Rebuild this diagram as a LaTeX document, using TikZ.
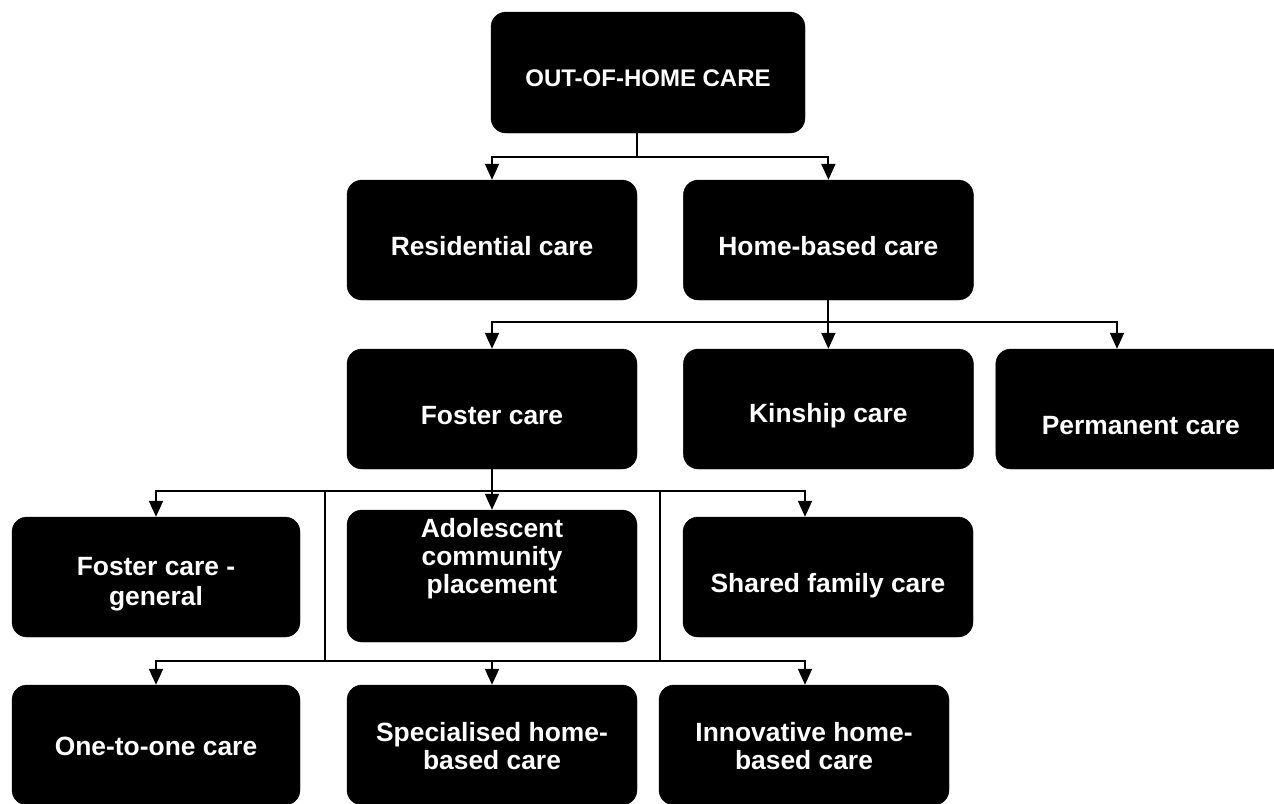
\documentclass[tikz,border=0pt]{standalone}
\usepackage{fontspec}
\setmainfont{Liberation Sans}
\usetikzlibrary{arrows.meta,positioning}
\tikzstyle{box}=[draw=black,fill=black,text=white,rounded corners=15pt,minimum width=290pt,minimum height=120pt,inner sep=0pt,align=center,font=\fontsize{26.4}{28}\selectfont\bfseries]
\tikzstyle{post}=[-{Triangle[width=14pt,length=16pt]},line width=2pt]
\tikzstyle{link}=[line width=2pt]

\begin{document}
\begin{tikzpicture}[x=1pt,y=-1pt]
    \useasboundingbox (0,0) rectangle (1274,803);

    \node[box,minimum width=314pt,minimum height=121pt,font=\fontsize{24}{28}\selectfont\bfseries,text height=27pt,text depth=0pt] (top) at (648,72.5) {OUT-OF-HOME CARE};
    \node[box,text height=30pt,text depth=0pt] (resid) at (492,240) {Residential care};
    \node[box,text height=30pt,text depth=0pt] (home)  [right=46pt of resid] {Home-based care};

    \node[box,text height=30pt,text depth=0pt] (foster) at (492,409) {Foster care};
    \node[box,text height=26pt,text depth=0pt] (kin)    [right=46pt of foster] {Kinship care};
    \node[box,text height=50pt,text depth=0pt] (perm)   [right=22pt of kin] {Permanent care};

    \node[box,minimum width=288pt,font=\fontsize{26.4}{30}\selectfont\bfseries,text height=56pt,text depth=0pt] (gen) at (156,577) {Foster care -\\general};
    \node[box,minimum height=132pt,text height=34pt,text depth=0pt] (adol) at (492,576) {Adolescent\\community\\placement};
    \node[box,text height=30pt,text depth=0pt] (shared) at (828,577) {Shared family care};

    \node[box,minimum width=288pt,text height=20pt,text depth=0pt] (one) at (156,745) {One-to-one care};
    \node[box,text height=48pt,text depth=0pt] (spec)  at (492,745) {Specialised home-\\based care};
    \node[box,text height=48pt,text depth=0pt] (innov) at (804,745) {Innovative home-\\based care};

    % junctions
    \coordinate (j1) at (637,157);
    \coordinate (j2) at (828,322);
    \coordinate (p1) at (1117,322);
    \coordinate (j3) at (492,491);
    \coordinate (s1) at (805,491);
    \coordinate (v1) at (325,491);
    \coordinate (v2) at (660,491);
    \coordinate (v1b) at (325,661);
    \coordinate (v2b) at (660,661);
    \coordinate (s2) at (805,661);

    \draw[link] (top.south -| j1) -- (j1);
    \draw[post] (j1) -| (resid.north);
    \draw[post] (j1) -| (home.north);

    \draw[post] (home.south) -- (kin.north);
    \draw[post] (j2) -| (foster.north);
    \draw[post] (j2) -- (p1) -- (p1 |- perm.north);

    \draw[post] (foster.south) -- (adol.north);
    \draw[post] (j3) -| (gen.north);
    \draw[post] (j3) -- (s1) -- (s1 |- shared.north);
    \draw[link] (v1) -- (v1b);
    \draw[link] (v2) -- (v2b);

    \draw[post] (v1b) -| (one.north);
    \draw[link] (v1b) -- (v2b);
    \draw[post] (spec.north |- v1b) -- (spec.north);
    \draw[post] (v2b) -- (s2) -- (s2 |- innov.north);
\end{tikzpicture}
\end{document}
